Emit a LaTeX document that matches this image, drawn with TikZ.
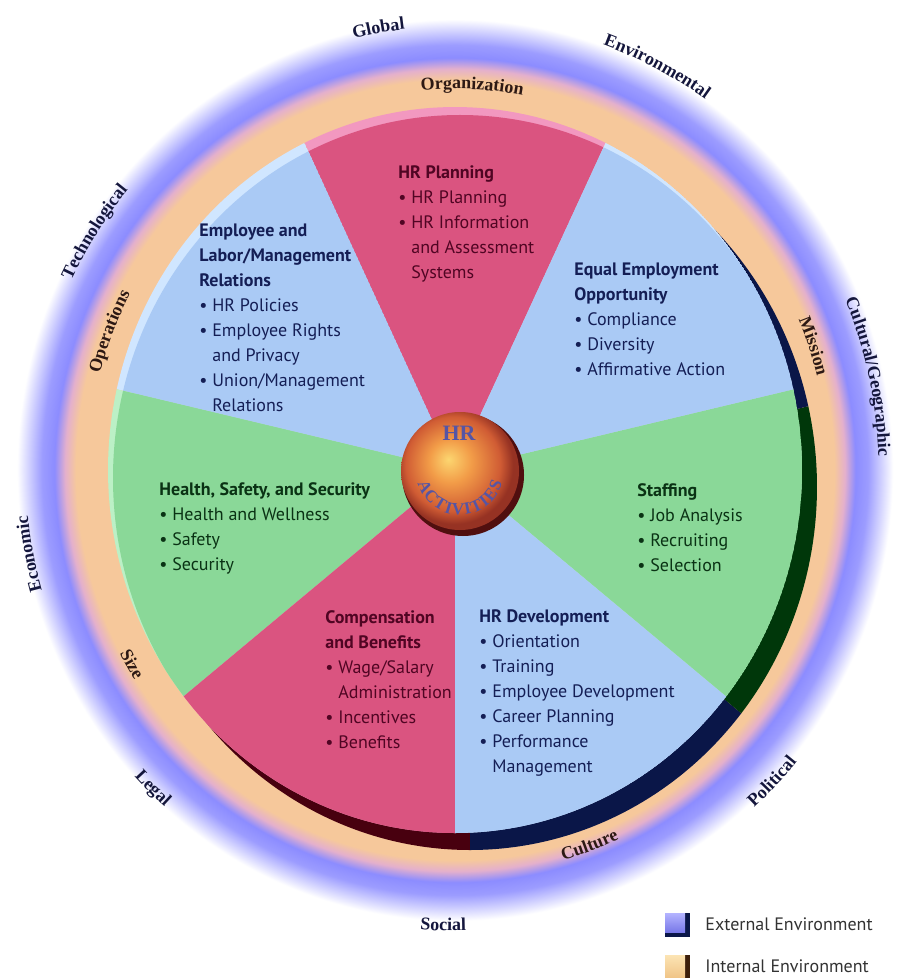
\documentclass[tikz,border=0pt]{standalone}
\usepackage{fontspec}
\setmainfont{PT Sans}
\newfontfamily\ringf{Liberation Serif}
\usetikzlibrary{decorations.text}

\definecolor{pinkc}{RGB}{218,84,128}
\definecolor{pinkrim}{RGB}{242,152,192}
\definecolor{pinkdark}{RGB}{72,0,15}
\definecolor{bluec}{RGB}{170,202,245}
\definecolor{bluerim}{RGB}{208,230,255}
\definecolor{bluedark}{RGB}{10,22,72}
\definecolor{greenc}{RGB}{138,216,152}
\definecolor{greenrim}{RGB}{188,240,198}
\definecolor{greendark}{RGB}{0,55,10}
\definecolor{tanc}{RGB}{246,200,155}
\definecolor{tanpink}{RGB}{228,176,204}
\definecolor{extblue}{RGB}{140,140,255}
\definecolor{extblue2}{RGB}{156,156,255}
\definecolor{pinktext}{RGB}{80,5,35}
\definecolor{bluetext}{RGB}{20,30,85}
\definecolor{greentext}{RGB}{10,50,20}
\definecolor{ringtext}{RGB}{20,22,60}
\definecolor{inringtext}{RGB}{45,25,20}
\definecolor{ballin}{RGB}{252,214,112}
\definecolor{ballmid}{RGB}{242,156,72}
\definecolor{ballout}{RGB}{208,92,52}
\definecolor{balledge}{RGB}{150,50,35}
\definecolor{ballshadow}{RGB}{80,15,15}
\definecolor{balltext}{RGB}{85,85,165}
\definecolor{legblue1}{RGB}{180,180,255}
\definecolor{legblue2}{RGB}{120,120,232}
\definecolor{legtan1}{RGB}{252,228,180}
\definecolor{legtan2}{RGB}{236,186,120}
\definecolor{tandark}{RGB}{60,30,10}

\pgfdeclareradialshading{envring}{\pgfpoint{0bp}{0bp}}{color(0bp)=(tanc); color(21.3bp)=(tanc); color(21.9bp)=(tanpink); color(22.5bp)=(extblue); color(23.2bp)=(extblue2); color(24.6bp)=(white); color(50bp)=(white)}
\pgfdeclareradialshading{hrball}{\pgfpoint{-5bp}{5bp}}{color(0bp)=(ballin); color(9bp)=(ballmid); color(20bp)=(ballout); color(25bp)=(balledge); color(50bp)=(balledge)}

\newcommand\ringfmt{\ringf\bfseries\fontsize{9}{10}\selectfont}
\newcommand\bul{\textbullet\ }
\newcommand\ind{\hphantom{\textbullet\ }}

\newcommand\cwlab[4][ringtext]{%
 \pgfmathsetmacro\lsa{#3+40}%
 \pgfmathsetmacro\lrx{#4*445}\pgfmathsetmacro\lry{#4*458}%
 \pgfmathsetmacro\lx{\lrx*cos(\lsa)}\pgfmathsetmacro\ly{\lry*sin(\lsa)}%
 \path[decorate,decoration={text along path,text align=center,text color=#1,text={|\ringfmt|#2}}] (\lx,\ly) arc[start angle=\lsa, delta angle=-80, x radius=\lrx, y radius=\lry];}
\newcommand\ccwlab[4][ringtext]{%
 \pgfmathsetmacro\lsa{#3-40}%
 \pgfmathsetmacro\lrx{#4*445}\pgfmathsetmacro\lry{#4*458}%
 \pgfmathsetmacro\lx{\lrx*cos(\lsa)}\pgfmathsetmacro\ly{\lry*sin(\lsa)}%
 \path[decorate,decoration={text along path,text align=center,text color=#1,text={|\ringfmt|#2}}] (\lx,\ly) arc[start angle=\lsa, delta angle=80, x radius=\lrx, y radius=\lry];}

\begin{document}
\begin{tikzpicture}[x=0.5pt,y=0.5pt,
  sector/.style 2 args={insert path={(0,0) -- (#1:347 and 363) arc[start angle=#1, end angle=#2, x radius=347, y radius=363] -- cycle}},
  sectext/.style={anchor=north west, inner sep=0pt, align=left, font=\fontsize{9}{12.5}\selectfont},
  legtext/.style={anchor=west, inner sep=0pt, font=\fontsize{9}{10}\selectfont, text=black!80}]
\useasboundingbox (0,0) rectangle (897,-978);
\clip (0,0) rectangle (897,-978);
\fill[white] (0,0) rectangle (897,-978);

\begin{scope}[shift={(455,-470)}]
  \shade[shading=envring] (0,0) ellipse[x radius=445, y radius=458];
  % shadow crescent
  \begin{scope}[shift={(15,-17)}]
    \foreach \a/\b/\d in {64.286/115.714/pinkdark, 115.714/167.143/bluedark, 167.143/218.571/greendark,
        218.571/270/pinkdark, 270/321.429/bluedark, 321.429/372.857/greendark, 12.857/64.286/bluedark}
      {\fill[\d, sector={\a}{\b}];}
  \end{scope}
  % sectors with light rim
  \foreach \a/\b/\m/\r in {64.286/115.714/pinkc/pinkrim, 115.714/167.143/bluec/bluerim, 167.143/218.571/greenc/greenrim,
      218.571/270/pinkc/pinkrim, 270/321.429/bluec/bluerim, 321.429/372.857/greenc/greenrim, 12.857/64.286/bluec/bluerim}
  {
    \begin{scope}
      \path[clip, sector={\a}{\b}];
      \fill[\r, sector={\a}{\b}];
      \fill[\m] (5,-8) ellipse[x radius=347, y radius=363];
    \end{scope}
  }
  % external environment labels
  \cwlab{Global}{100}{0.969}
  \cwlab{Environmental}{63}{0.986}
  \cwlab{Technological}{147}{0.956}
  \cwlab{Cultural/Geographic}{12.5}{0.952}
  \cwlab{Economic}{191}{0.965}
  \ccwlab{Legal}{226}{0.983}
  \ccwlab{Social}{268.5}{1.006}
  \ccwlab{Political}{316}{0.998}
  % internal environment labels
  \cwlab[inringtext]{Organization}{87.4}{0.832}
  \cwlab[inringtext]{Mission}{18.8}{0.839}
  \cwlab[inringtext]{Operations}{158.5}{0.825}
  \ccwlab[inringtext]{Size}{210.6}{0.854}
  \ccwlab[inringtext]{Culture}{290}{0.887}
\end{scope}

% sector texts
\node[sectext, text=pinktext] (plan) at (398,-165)
  {{\bfseries HR Planning}\\\bul HR Planning\\\bul HR Information\\\ind and Assessment\\\ind Systems};
\node[sectext, text=bluetext] (emp) at (199,-223)
  {{\bfseries Employee and}\\{\bfseries Labor/Management}\\{\bfseries Relations}\\\bul HR Policies\\\bul Employee Rights\\\ind and Privacy\\\bul Union/Management\\\ind Relations};
\node[sectext, text=bluetext] (eeo) at (574,-262)
  {{\bfseries Equal Employment}\\{\bfseries Opportunity}\\\bul Compliance\\\bul Diversity\\\bul Affirmative Action};
\node[sectext, text=greentext] (staff) at (637,-483)
  {{\bfseries Staffing}\\\bul Job Analysis\\\bul Recruiting\\\bul Selection};
\node[sectext, text=bluetext] (dev) at (479,-609)
  {{\bfseries HR Development}\\\bul Orientation\\\bul Training\\\bul Employee Development\\\bul Career Planning\\\bul Performance\\\ind Management};
\node[sectext, text=pinktext] (comp) at (325,-610)
  {{\bfseries Compensation}\\{\bfseries and Benefits}\\\bul Wage/Salary\\\ind Administration\\\bul Incentives\\\bul Benefits};
\node[sectext, text=greentext] (health) at (159,-482)
  {{\bfseries Health, Safety, and Security}\\\bul Health and Wellness\\\bul Safety\\\bul Security};

% central ball
\fill[ballshadow] (463,-475) circle (61);
\shade[shading=hrball] (460,-471) circle (59);
\node[font=\ringf\bfseries\fontsize{11}{11}\selectfont, text=balltext] (hr) at (459,-433) {HR};
\begin{scope}[shift={(460,-471)}]
  \path[decorate, decoration={text along path, text align={fit to path}, text color=balltext,
     text={|\ringf\bfseries\fontsize{8.5}{9}\selectfont|ACTIVITIES}}]
     (196:44) arc[start angle=196, end angle=344, radius=44];
\end{scope}

% legend
\fill[bluedark] (665,-913) rectangle (690,-937);
\shade[top color=legblue1, bottom color=legblue2] (665,-913) rectangle (685,-932);
\node[legtext] (ext) at (705,-924) {External Environment};
\fill[tandark] (665,-955) rectangle (690,-990);
\shade[top color=legtan1, bottom color=legtan2] (665,-955) rectangle (685,-985);
\node[legtext] (int) at (705,-966) {Internal Environment};
\end{tikzpicture}
\end{document}
